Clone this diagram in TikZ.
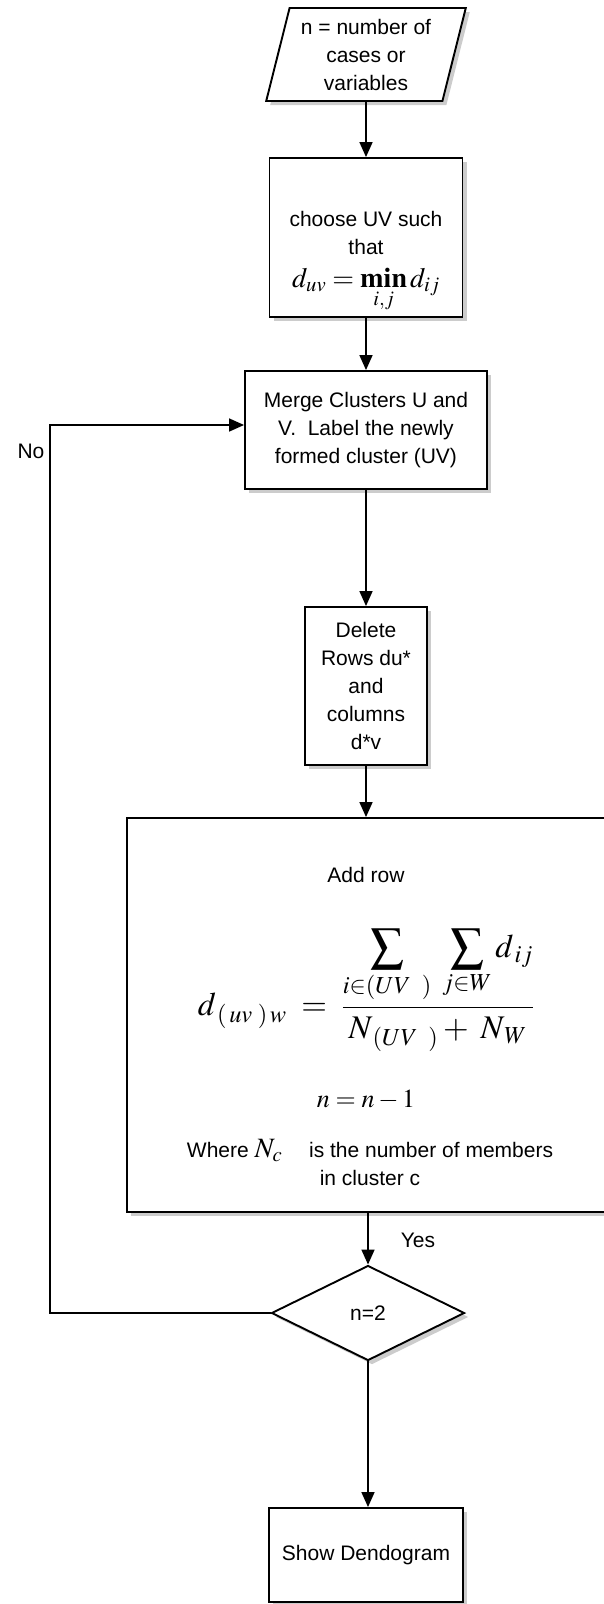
\documentclass[tikz,border=0pt]{standalone}
\usepackage{mathptmx}
\usepackage[no-math]{fontspec}
\setmainfont{Liberation Sans}
\usetikzlibrary{shapes.geometric,arrows.meta,shadows}

\tikzset{
  chartbox/.style={draw, line width=1.9pt, fill=white, align=center,
    font=\fontsize{21}{28}\selectfont,
    drop shadow={shadow xshift=4pt, shadow yshift=-4pt, fill=black!40}},
  chartlabel/.style={align=center, inner sep=0pt, font=\fontsize{21}{28}\selectfont},
  flowline/.style={line width=1.6pt, -{Triangle[length=15pt,width=13pt]}},
}

\begin{document}
\begin{tikzpicture}[x=1pt,y=-1pt]
 \useasboundingbox (0,0) rectangle (603,1604);
 % boxes of the chart, top to bottom
 \node[chartbox, trapezium, trapezium left angle=75, trapezium right angle=105,
   trapezium stretches=true, minimum width=200pt, minimum height=93pt] (cases) at (366,54.5)
   {n = number of\\cases or\\variables};
 \node[chartbox, minimum width=193pt, minimum height=159pt] (choose) at (366,237.5)
   {\mbox{}\\[36pt]choose UV such\\that\\[5pt]
    {\fontsize{28}{30}\selectfont$d_{uv} = \mathop{\mathbf{min}}\limits_{i,j} d_{ij}$}};
 \node[chartbox, minimum width=242pt, minimum height=118pt] (merge) at (366,430)
   {Merge Clusters U and\\V.~ Label the newly\\formed cluster (UV)};
 \node[chartbox, minimum width=122pt, minimum height=158pt] (delete) at (366,686)
   {Delete\\Rows du*\\and\\columns\\d*v};
 \node[chartbox, minimum width=478pt, minimum height=394pt] (addrow) at (366,1015) {};
 \node[chartbox, diamond, inner sep=0pt, minimum width=193pt, minimum height=95pt] (check) at (368,1313)
   {n=2};
 \node[chartbox, minimum width=194pt, minimum height=94pt] (show) at (366,1555)
   {Show Dendogram};
 % text in the large box
 \node[chartlabel] (addtitle) at (366,875) {Add row};
 \node[chartlabel, font=\fontsize{33}{36}\selectfont] (addformula) at (366,990)
   {$\displaystyle d_{\,(\,uv\;)\,w} \;=\; \frac{\displaystyle\sum_{i\in(UV\;\;)}\;\sum_{j\in W} d_{\,ij}}{N_{\,(UV\;\;)}+\;N_{\,W}}$};
 \node[chartlabel, font=\fontsize{26}{28}\selectfont] (addcount) at (366,1100) {$n = n - 1$};
 \node[chartlabel] (addnote) at (370,1162)
   {Where {\fontsize{28}{28}\selectfont$N_{c}$}\quad\ is the number of members\\in cluster c};
 % connectors
 \coordinate (loopcorner) at (50,1313);
 \draw[flowline] (cases) -- (choose);
 \draw[flowline] (choose) -- (merge);
 \draw[flowline] (merge) -- (delete);
 \draw[flowline] (delete) -- (addrow);
 \draw[flowline] (check.north |- addrow.south) -- (check);
 \draw[flowline] (check.south) -- (check.south |- show.north);
 \draw[flowline] (check.west) -- (loopcorner) |- ([yshift=5pt]merge.west);
 \node[chartlabel] (yeslabel) at (418,1240) {Yes};
 \node[chartlabel] (nolabel) at (31,451) {No};
\end{tikzpicture}
\end{document}
